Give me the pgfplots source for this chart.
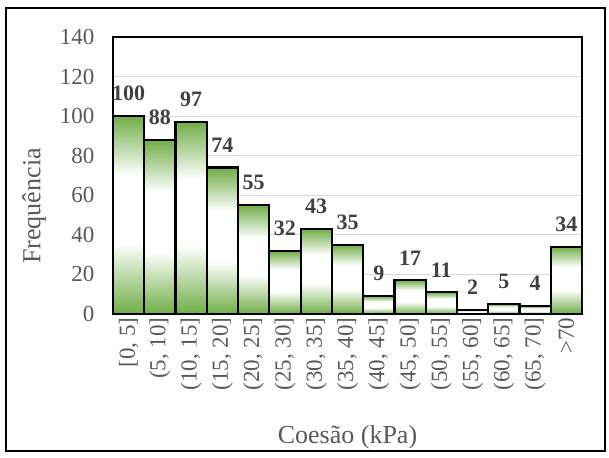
\documentclass[border=0pt]{standalone}
\usepackage{fontspec}
\setmainfont{Liberation Serif}
\usepackage{pgfplots}
\pgfplotsset{compat=1.18}
\definecolor{bargreen}{HTML}{70AD47}
\definecolor{txtgray}{HTML}{595959}
\definecolor{lblgray}{HTML}{404040}
\definecolor{gridgray}{HTML}{D9D9D9}
% green at top and bottom, white in the middle (path scaled to 25bp..75bp)
\pgfdeclareverticalshading{barshade}{100bp}{color(0bp)=(bargreen); color(25bp)=(bargreen); color(43bp)=(white); color(60bp)=(white); color(75bp)=(bargreen); color(100bp)=(bargreen)}
\pgfplotsset{
  hbar/.style={
    ybar,
    bar width=1,
    draw=black,
    line width=2.2pt,
    shading=barshade,
    nodes near coords,
    every node near coord/.style={font=\bfseries\fontsize{22}{26}\selectfont, text=lblgray, anchor=south, inner sep=2pt, yshift=12pt},
  },
}

\begin{document}
\begin{tikzpicture}[x=1pt,y=1pt]
  \useasboundingbox (0,0) rectangle (609,457);
  \draw[line width=1.8pt] (6,6) rectangle (605,449);
  \begin{axis}[
      at={(113pt,143pt)}, anchor=south west,
      scale only axis,
      width=469pt, height=277pt,
      xmin=-0.5, xmax=14.5,
      ymin=0, ymax=140,
      ytick={0,20,...,140},
      xtick={0,...,14},
      xticklabels={{[0, 5]},{(5, 10]},{(10, 15]},{(15, 20]},{(20, 25]},{(25, 30]},{(30, 35]},{(35, 40]},{(40, 45]},{(45, 50]},{(50, 55]},{(55, 60]},{(60, 65]},{(65, 70]},{>70}},
      x tick label style={rotate=90, anchor=east},
      tick label style={font=\fontsize{23}{27}\selectfont, text=txtgray},
      /pgf/number format/assume math mode=true,
      major tick length=0pt,
      yticklabel style={xshift=-15pt},
      ymajorgrids,
      grid style={gridgray, line width=1.2pt},
      axis line style={line width=2.2pt},
      xlabel={Coesão (kPa)},
      ylabel={Frequência},
      label style={font=\fontsize{26}{30}\selectfont, text=txtgray},
      xlabel style={at={(axis description cs:0.5,-0.444)}, anchor=center},
      ylabel style={at={(axis description cs:-0.168,0.39)}, anchor=center},
    ]
    % one plot per bar so that each bar gets its own shading
    \addplot[hbar] coordinates {(0,100)};
    \addplot[hbar] coordinates {(1,88)};
    \addplot[hbar] coordinates {(2,97)};
    \addplot[hbar] coordinates {(3,74)};
    \addplot[hbar] coordinates {(4,55)};
    \addplot[hbar] coordinates {(5,32)};
    \addplot[hbar] coordinates {(6,43)};
    \addplot[hbar] coordinates {(7,35)};
    \addplot[hbar] coordinates {(8,9)};
    \addplot[hbar] coordinates {(9,17)};
    \addplot[hbar] coordinates {(10,11)};
    \addplot[hbar] coordinates {(11,2)};
    \addplot[hbar] coordinates {(12,5)};
    \addplot[hbar] coordinates {(13,4)};
    \addplot[hbar] coordinates {(14,34)};
  \end{axis}
\end{tikzpicture}
\end{document}
